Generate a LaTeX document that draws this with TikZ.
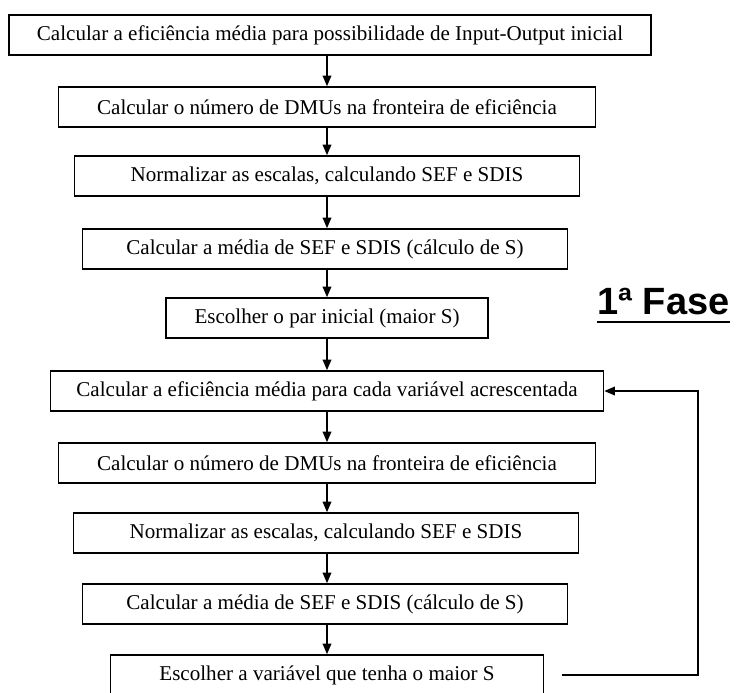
\documentclass[tikz,border=0pt]{standalone}
\usepackage{fontspec}
\setmainfont{Liberation Serif}
\newfontfamily\fasefont{Liberation Sans}
\usetikzlibrary{arrows.meta}
\tikzset{
  caixa/.style={draw, line width=1.2pt, minimum height=30pt, inner sep=0pt,
    font=\fontsize{15.8}{18}\selectfont},
  larg/.style={minimum width=#1*0.75pt},
  seta/.style={line width=1.2pt, -{Triangle[length=8pt,width=6.5pt]}}
}
\begin{document}
\begin{tikzpicture}[x=0.75pt, y=-0.75pt]
	\useasboundingbox (0,0) rectangle (736,693);
	% passos iniciais
	\node[caixa, larg=642] (b1) at (330,35) {Calcular a eficiência média para possibilidade de Input-Output inicial};
	\node[caixa, larg=537] (b2) at (327,107) {Calcular o número de DMUs na fronteira de eficiência};
	\node[caixa, larg=505] (b3) at (327,176) {Normalizar as escalas, calculando SEF e SDIS};
	\node[caixa, larg=485] (b4) at (325,249) {Calcular a média de SEF e SDIS (cálculo de S)};
	\node[caixa, larg=322] (b5) at (327,318) {Escolher o par inicial (maior S)};
	% ciclo das variáveis
	\node[caixa, larg=553] (b6) at (327,391) {Calcular a eficiência média para cada variável acrescentada};
	\node[caixa, larg=537] (b7) at (327,463) {Calcular o número de DMUs na fronteira de eficiência};
	\node[caixa, larg=505] (b8) at (326,533) {Normalizar as escalas, calculando SEF e SDIS};
	\node[caixa, larg=485] (b9) at (325,604) {Calcular a média de SEF e SDIS (cálculo de S)};
	\node[caixa, larg=433] (b10) at (327,675) {Escolher a variável que tenha o maior S};
	% setas verticais
	\foreach \a/\b in {b1/b2,b2/b3,b3/b4,b4/b5,b5/b6,b6/b7,b7/b8,b8/b9,b9/b10}
		\draw[seta] (\a.south -| 327,0) -- (\b.north -| 327,0);
	% retorno
	\coordinate (ret) at (562,675);
	\draw[seta] (ret) -- ++(136,0) |- (b6.east);
	% titulo
	\node[inner sep=0pt, anchor=base west, font=\fasefont\bfseries\fontsize{28.5}{30}\selectfont] (fase) at (597,314) {1ª Fase};
	\draw[line width=2.2pt] ([yshift=-6pt]fase.base west) -- ([yshift=-6pt]fase.base east);
\end{tikzpicture}
\end{document}
